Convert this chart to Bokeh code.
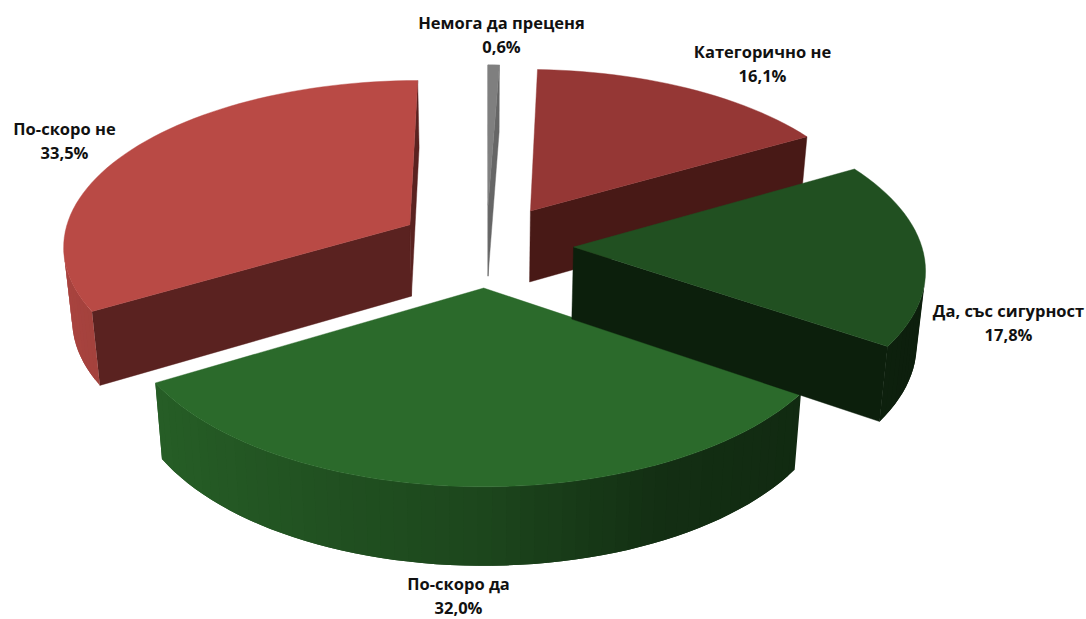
import math
from bokeh.plotting import figure
from bokeh.models import ColumnDataSource
from bokeh.core.properties import value as fixed
from bokeh.embed import file_html
from bokeh.resources import INLINE

# Data (clockwise from twelve o'clock)
categories = ["Немога да преценя", "Категорично не", "Да, със сигурност", "По-скоро да", "По-скоро не"]
shares = [0.6, 16.1, 17.8, 32.0, 33.5]
share_labels = ["0,6%", "16,1%", "17,8%", "32,0%", "33,5%"]

# Styles
top_colors = ["#7f7f7f", "#953735", "#215021", "#2b6a2b", "#b94a45"]
face_colors = ["#666666", "#481916", "#0c1f0c", "#153415", "#5a2220"]
draw_order = [0, 1, 4, 3, 2]
shade_x = [-1.0, 0.0, 0.45, 1.0]
shade_k = [0.92, 0.66, 0.44, 0.38]

# Layout
label_x = [501, 762, 1008, 458, 64]
label_y = [22, 51, 310, 583, 128]
LINE_GAP = 24
CX, CY = 486.0, 245.0
SCALE, PERSP, TILT, SHRINK = 348.0, 0.115, 0.475, 0.98
explode = [0.25, 0.25, 0.25, 0.25, 0.257]
DEPTH_BASE, DEPTH_GROW = 72.0, 0.12
W, H = 1086, 619


def project(x, y):
    f = SCALE / (1 + PERSP * y)
    sx, sy = CX + x * f, CY - y * TILT * f
    return (sx, sy), (CX + x * f * SHRINK, sy + DEPTH_BASE + DEPTH_GROW * (f - SCALE))


def scale_color(c, k):
    return "#%02x%02x%02x" % tuple(min(255, round(int(c[i:i + 2], 16) * k)) for i in (1, 3, 5))


def shade(u):
    for j in range(len(shade_x) - 1):
        if u <= shade_x[j + 1]:
            t = (u - shade_x[j]) / (shade_x[j + 1] - shade_x[j])
            return shade_k[j] + t * (shade_k[j + 1] - shade_k[j])
    return shade_k[-1]


xs, ys, fills, strokes = [], [], [], []


def add_poly(pts, color, stroke):
    xs.append([q[0] for q in pts])
    ys.append([q[1] for q in pts])
    fills.append(color)
    strokes.append(stroke)


total = sum(shares)
spans, acc = [], 0.0
for v in shares:
    a0 = acc * 360 / total
    acc += v
    spans.append((a0, acc * 360 / total))

for i in draw_order:
    a0, a1 = spans[i]
    mid = math.radians((a0 + a1) / 2)
    ex, ey = explode[i] * math.sin(mid), explode[i] * math.cos(mid)
    n = max(2, int((a1 - a0) / 2))
    rim = []
    for j in range(n + 1):
        a = math.radians(a0 + (a1 - a0) * j / n)
        rim.append((ex + math.sin(a), ey + math.cos(a)))
    apex = (ex, ey)
    ring = [apex] + rim + [apex]
    tops, bots = zip(*[project(*q) for q in ring])
    last = len(ring) - 2
    for k in range(last + 1):
        quad = [tops[k], tops[k + 1], bots[k + 1], bots[k]]
        area = sum(quad[m][0] * quad[(m + 1) % 4][1] - quad[(m + 1) % 4][0] * quad[m][1] for m in range(4))
        if area >= 0:
            continue
        if k == 0 or k == last:
            add_poly(quad, face_colors[i], 0.6)
        else:
            unit_x = (ring[k][0] + ring[k + 1][0]) / 2 - ex
            nxt = min(k + 2, last)          # overlap the next strip so that no seam shows
            strip = [tops[k], tops[k + 1], tops[nxt], bots[nxt], bots[k + 1], bots[k]]
            add_poly(strip, scale_color(top_colors[i], shade(unit_x)), 0.0)
    add_poly(list(tops[:-1]), top_colors[i], 0.6)

p = figure(width=W, height=H, x_range=(0, W), y_range=(H, 0),
           output_backend="svg", toolbar_location=None, min_border=0)
p.axis.visible = False
p.grid.visible = False
p.outline_line_color = None
p.background_fill_color = "#ffffff"
p.border_fill_color = "#ffffff"

src = ColumnDataSource(dict(xs=xs, ys=ys, fill=fills, stroke=strokes))
p.patches("xs", "ys", source=src, fill_color="fill", line_color="fill", line_alpha="stroke", line_width=0.7)

lab = ColumnDataSource(dict(
    x=label_x + label_x,
    y=label_y + [v + LINE_GAP for v in label_y],
    t=categories + share_labels,
))
p.text("x", "y", text="t", source=lab, text_align="center", text_baseline="middle",
       text_font=fixed("Open Sans"), text_font_style="bold", text_font_size="16.5px", text_color="#111111")

open("out.html", "w").write(file_html(p, INLINE))
